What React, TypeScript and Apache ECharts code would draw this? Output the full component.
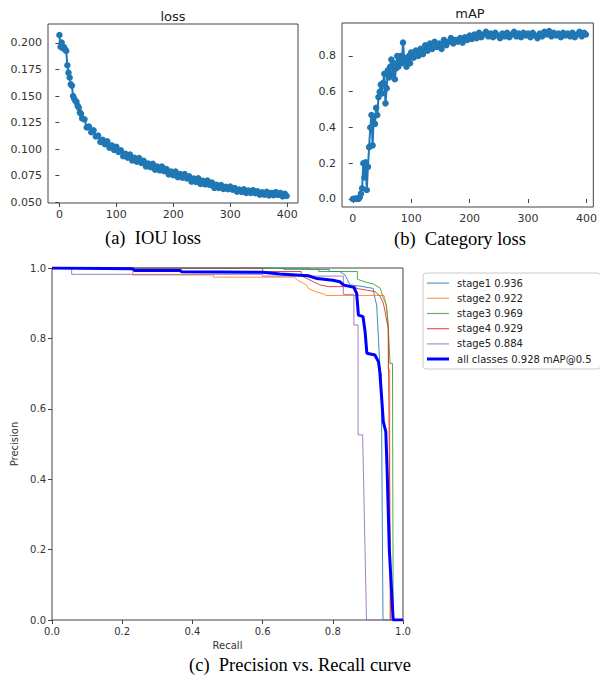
import React, { useEffect, useRef } from "react";
import * as echarts from "echarts";

const FONT = "DejaVu Sans";
const SERIF = "Liberation Serif";

// ---- (a) IOU loss ----
const lossEpochs = [
  0, 2, 4, 6, 8, 10, 12, 14, 16, 18, 20, 22, 24, 26, 28, 30, 32, 34, 36, 38, 40,
  44, 48, 52, 56, 60, 64, 68, 72, 76, 80, 84, 88, 92, 96, 100, 104, 108, 112, 116, 120,
  124, 128, 132, 136, 140, 144, 148, 152, 156, 160, 164, 168, 172, 176, 180, 184, 188, 192, 196, 200,
  204, 208, 212, 216, 220, 224, 228, 232, 236, 240, 244, 248, 252, 256, 260, 264, 268, 272, 276, 280,
  284, 288, 292, 296, 300, 304, 308, 312, 316, 320, 324, 328, 332, 336, 340, 344, 348, 352, 356, 360,
  364, 368, 372, 376, 380, 384, 388, 392, 396, 399,
];
const lossValues = [
  0.2075, 0.1965, 0.2005, 0.195, 0.1962, 0.194, 0.1925, 0.179, 0.172, 0.1675, 0.161, 0.1598, 0.15, 0.1475, 0.1455, 0.1445, 0.1408, 0.1392, 0.1345, 0.1332, 0.1288,
  0.128, 0.1204, 0.1212, 0.1159, 0.1176, 0.1118, 0.1128, 0.1067, 0.1086, 0.1045, 0.1072, 0.1012, 0.1034, 0.0992, 0.1021, 0.0972, 0.0988, 0.0932, 0.0955, 0.0918,
  0.0948, 0.0892, 0.0918, 0.0881, 0.0914, 0.0869, 0.0888, 0.0836, 0.0862, 0.0828, 0.086, 0.0806, 0.0834, 0.0799, 0.0834, 0.079, 0.0811, 0.076, 0.0787, 0.0754,
  0.0787, 0.0734, 0.0763, 0.0729, 0.0764, 0.0722, 0.0743, 0.0693, 0.0721, 0.0689, 0.0723, 0.0671, 0.0701, 0.0667, 0.0703, 0.0661, 0.0683, 0.0634, 0.0663, 0.0632,
  0.066, 0.0623, 0.0644, 0.0621, 0.0646, 0.0617, 0.0633, 0.0598, 0.0618, 0.0596, 0.0621, 0.0586, 0.0608, 0.0586, 0.0612, 0.0584, 0.0602, 0.0569, 0.0591, 0.057,
  0.0596, 0.0562, 0.0586, 0.0565, 0.0593, 0.0567, 0.0586, 0.0554, 0.0577, 0.0557,
];
const lossTicksX = [0, 100, 200, 300, 400];
const lossTicksY = [0.05, 0.075, 0.1, 0.125, 0.15, 0.175, 0.2];

// ---- (b) mAP ----
const mapEpochs = [
  0, 2, 4, 6, 8, 10, 12, 14, 16, 18, 20, 22, 24, 26, 28, 30, 32, 34, 36, 38, 40,
  42, 44, 46, 48, 50, 52, 54, 56, 58, 60, 62, 64, 66, 68, 70, 72, 74, 76, 78, 80,
  82, 84, 86, 88, 90, 92, 94, 96, 98, 100,
  104, 108, 112, 116, 120, 124, 128, 132, 136, 140, 144, 148, 152, 156, 160, 164, 168, 172, 176, 180,
  184, 188, 192, 196, 200, 204, 208, 212, 216, 220, 224, 228, 232, 236, 240, 244, 248, 252, 256, 260,
  264, 268, 272, 276, 280, 284, 288, 292, 296, 300, 304, 308, 312, 316, 320, 324, 328, 332, 336, 340,
  344, 348, 352, 356, 360, 364, 368, 372, 376, 380, 384, 388, 392, 396, 399,
];
const mapValues = [
  0.0, 0.0, 0.002, 0.0, 0.003, 0.001, 0.01, 0.03, 0.06, 0.2, 0.12, 0.205, 0.05, 0.18, 0.29, 0.4, 0.47, 0.3, 0.46, 0.42, 0.51,
  0.47, 0.57, 0.6, 0.64, 0.59, 0.65, 0.7, 0.535, 0.62, 0.72, 0.68, 0.74, 0.78, 0.7, 0.76, 0.67, 0.73, 0.8, 0.74, 0.79,
  0.8, 0.76, 0.875, 0.79, 0.77, 0.74, 0.79, 0.8, 0.76, 0.82,
  0.79, 0.83, 0.8, 0.84, 0.81, 0.86, 0.83, 0.87, 0.84, 0.88, 0.85, 0.87, 0.84, 0.89, 0.86, 0.88, 0.9, 0.87, 0.89, 0.88,
  0.9, 0.875, 0.905, 0.89, 0.915, 0.895, 0.92, 0.9, 0.93, 0.905, 0.92, 0.935, 0.91, 0.925, 0.905, 0.93, 0.915, 0.9, 0.925, 0.91,
  0.93, 0.905, 0.92, 0.935, 0.91, 0.925, 0.905, 0.93, 0.915, 0.925, 0.905, 0.93, 0.915, 0.9, 0.925, 0.91, 0.935, 0.92, 0.94, 0.91,
  0.93, 0.915, 0.925, 0.905, 0.93, 0.915, 0.925, 0.91, 0.93, 0.905, 0.92, 0.935, 0.91, 0.93, 0.92,
];
const mapTicksX = [0, 100, 200, 300, 400];
const mapTicksY = [0, 0.2, 0.4, 0.6, 0.8];

// ---- (c) Precision vs Recall ----
const stageNames = ["stage1 0.936", "stage2 0.922", "stage3 0.969", "stage4 0.929", "stage5 0.884"];
const allName = "all classes 0.928 mAP@0.5";
const stageColors = ["#1f77b4", "#ff7f0e", "#2ca02c", "#d62728", "#9467bd"];
const allColor = "#0000ff";

const stage1Recall = [0, 0.73, 0.73, 0.79, 0.79, 0.82, 0.835, 0.849, 0.88, 0.915, 0.92, 0.925, 0.93, 0.935, 0.938, 0.943, 1.0];
const stage1Precision = [1, 1, 0.996, 0.996, 0.99, 0.99, 0.98, 0.952, 0.948, 0.942, 0.914, 0.895, 0.8, 0.705, 0.7, 0.0, 0.0];
const stage2Recall = [0, 0.23, 0.23, 0.46, 0.46, 0.69, 0.7, 0.725, 0.73, 0.75, 0.778, 0.78, 0.946, 0.95, 0.953, 0.956, 0.958, 0.958, 0.962, 0.963, 1.0];
const stage2Precision = [1, 1, 0.98, 0.98, 0.974, 0.974, 0.965, 0.952, 0.942, 0.933, 0.925, 0.922, 0.922, 0.905, 0.885, 0.86, 0.83, 0.712, 0.712, 0.0, 0.0];
const stage3Recall = [0, 0.66, 0.66, 0.76, 0.76, 0.87, 0.87, 0.9, 0.915, 0.935, 0.944, 0.953, 0.958, 0.963, 0.97, 0.972, 1.0];
const stage3Precision = [1, 1, 0.996, 0.996, 0.99, 0.99, 0.968, 0.958, 0.955, 0.943, 0.914, 0.895, 0.833, 0.729, 0.729, 0.0, 0.0];
const stage4Recall = [0, 0.6, 0.6, 0.71, 0.71, 0.745, 0.763, 0.787, 0.865, 0.867, 0.897, 0.92, 0.934, 0.944, 0.949, 0.954, 0.958, 0.965, 1.0];
const stage4Precision = [1, 1, 0.99, 0.99, 0.978, 0.961, 0.952, 0.947, 0.947, 0.942, 0.937, 0.933, 0.921, 0.9, 0.876, 0.848, 0.83, 0.0, 0.0];
const stage5Recall = [0, 0.056, 0.056, 0.6, 0.6, 0.83, 0.83, 0.86, 0.86, 0.872, 0.872, 0.885, 0.896, 1.0];
const stage5Precision = [1, 1, 0.982, 0.982, 0.977, 0.977, 0.925, 0.925, 0.838, 0.838, 0.526, 0.526, 0.0, 0.0];
const allRecall = [0, 0.23, 0.235, 0.365, 0.37, 0.6, 0.65, 0.73, 0.755, 0.8, 0.82, 0.83, 0.86, 0.868, 0.873, 0.886, 0.892, 0.897, 0.92, 0.93, 0.934, 0.944, 0.951, 0.955, 0.961, 0.972, 1.0];
const allPrecision = [1.0, 0.998, 0.993, 0.993, 0.989, 0.988, 0.983, 0.978, 0.97, 0.965, 0.961, 0.952, 0.945, 0.928, 0.866, 0.862, 0.819, 0.758, 0.753, 0.734, 0.705, 0.563, 0.535, 0.42, 0.2, 0.0, 0.0];

const stageRecalls = [stage1Recall, stage2Recall, stage3Recall, stage4Recall, stage5Recall];
const stagePrecisions = [stage1Precision, stage2Precision, stage3Precision, stage4Precision, stage5Precision];

const zip = (xs: number[], ys: number[]) => xs.map((x, i) => [x, ys[i]]);

// legend icons: a horizontal bar inside a 22x12 bounding box (invisible move-to points fix the box)
const thinIcon = "path://M0,0M22,12M0,5.5h22v1.2h-22z";
const thickIcon = "path://M0,0M22,12M0,4.5h22v3h-22z";

export default function App() {
  const ref = useRef<HTMLDivElement>(null);
  useEffect(() => {
    if (!ref.current) return;
    const chart = echarts.init(ref.current, undefined, { renderer: "svg" });
    const tickColor = "#333";
    const frame = { show: true, borderColor: "#444", borderWidth: 1, backgroundColor: "transparent" };
    const baseAxis = (gridIndex: number, min: number, max: number, ticks: number[], fmt: (v: number) => string, fs: number) => ({
      type: "value",
      gridIndex,
      min,
      max,
      splitLine: { show: false },
      axisLine: { show: false },
      axisTick: { show: true, length: 4, customValues: ticks, lineStyle: { color: "#444" } },
      axisLabel: { customValues: ticks, formatter: fmt, color: tickColor, fontSize: fs, fontFamily: FONT, margin: 6 },
    });
    const prAxis = (gridIndex: number, name: string, nameGap: number) => ({
      type: "value",
      gridIndex,
      min: 0,
      max: 1,
      interval: 0.2,
      splitLine: { show: false },
      axisLine: { show: false },
      axisTick: { show: true, length: 4, lineStyle: { color: "#444" } },
      axisLabel: { formatter: (v: number) => v.toFixed(1), color: tickColor, fontSize: 10, fontFamily: FONT, margin: 6 },
      name,
      nameLocation: "middle",
      nameGap,
      nameTextStyle: { color: tickColor, fontSize: 10, fontFamily: FONT },
    });
    const option: any = {
      animation: false,
      textStyle: { fontFamily: FONT },
      grid: [
        { left: 48, top: 24, width: 250, height: 179, ...frame },
        { left: 342, top: 23, width: 257, height: 184, ...frame },
        { left: 52, top: 268, width: 351, height: 352, ...frame },
      ],
      xAxis: [
        baseAxis(0, -20, 419, lossTicksX, (v) => String(v), 11),
        baseAxis(1, -18.4, 411.7, mapTicksX, (v) => String(v), 11),
        prAxis(2, "Recall", 19),
      ],
      yAxis: [
        baseAxis(0, 0.0491, 0.2179, lossTicksY, (v) => v.toFixed(3), 11),
        baseAxis(1, -0.0448, 0.9846, mapTicksY, (v) => v.toFixed(1), 11),
        prAxis(2, "Precision", 25),
      ],
      legend: {
        orient: "vertical",
        left: 423,
        top: 273,
        data: [
          ...stageNames.map((name, i) => ({ name, icon: thinIcon, itemStyle: { color: stageColors[i], opacity: 0.75 } })),
          { name: allName, icon: thickIcon, itemStyle: { color: allColor } },
        ],
        itemWidth: 22,
        itemHeight: 12,
        itemGap: 3.2,
        padding: [4, 9, 4, 4],
        borderColor: "#ccc",
        borderWidth: 1,
        borderRadius: 3,
        textStyle: { fontSize: 10, fontFamily: FONT, color: "#222", padding: [0, 0, 0, 3] },
      },
      series: [
        {
          type: "line",
          xAxisIndex: 0,
          yAxisIndex: 0,
          data: zip(lossEpochs, lossValues),
          symbol: "circle",
          symbolSize: 6.5,
          itemStyle: { color: "#1f77b4" },
          lineStyle: { color: "#1f77b4", width: 2 },
        },
        {
          type: "line",
          xAxisIndex: 1,
          yAxisIndex: 1,
          data: zip(mapEpochs, mapValues),
          symbol: "circle",
          symbolSize: 6.5,
          itemStyle: { color: "#1f77b4" },
          lineStyle: { color: "#1f77b4", width: 2 },
        },
        ...stageNames.map((name, i) => ({
          type: "line",
          name,
          xAxisIndex: 2,
          yAxisIndex: 2,
          data: zip(stageRecalls[i], stagePrecisions[i]),
          symbol: "none",
          itemStyle: { color: stageColors[i] },
          lineStyle: { color: stageColors[i], width: 1, opacity: 0.85 },
        })),
        {
          type: "line",
          name: allName,
          xAxisIndex: 2,
          yAxisIndex: 2,
          data: zip(allRecall, allPrecision),
          symbol: "none",
          itemStyle: { color: allColor },
          lineStyle: { color: allColor, width: 3 },
        },
      ],
      graphic: [
        { type: "text", x: 173, y: 16, style: { text: "loss", fontSize: 13, fontFamily: FONT, fill: "#222", align: "center", verticalAlign: "middle" } },
        { type: "text", x: 470, y: 13, style: { text: "mAP", fontSize: 13, fontFamily: FONT, fill: "#222", align: "center", verticalAlign: "middle" } },
        { type: "text", x: 153, y: 238, style: { text: "(a)  IOU loss", fontSize: 18.5, fontFamily: SERIF, fill: "#000", align: "center", verticalAlign: "middle" } },
        { type: "text", x: 460, y: 239, style: { text: "(b)  Category loss", fontSize: 18.5, fontFamily: SERIF, fill: "#000", align: "center", verticalAlign: "middle" } },
        { type: "text", x: 300, y: 665, style: { text: "(c)  Precision vs. Recall curve", fontSize: 18.5, fontFamily: SERIF, fill: "#000", align: "center", verticalAlign: "middle" } },
      ],
    };
    chart.setOption(option);
    return () => chart.dispose();
  }, []);
  return <div ref={ref} style={{ position: "absolute", left: 0, top: 0, width: 600, height: 684, background: "#fff" }} />;
}
